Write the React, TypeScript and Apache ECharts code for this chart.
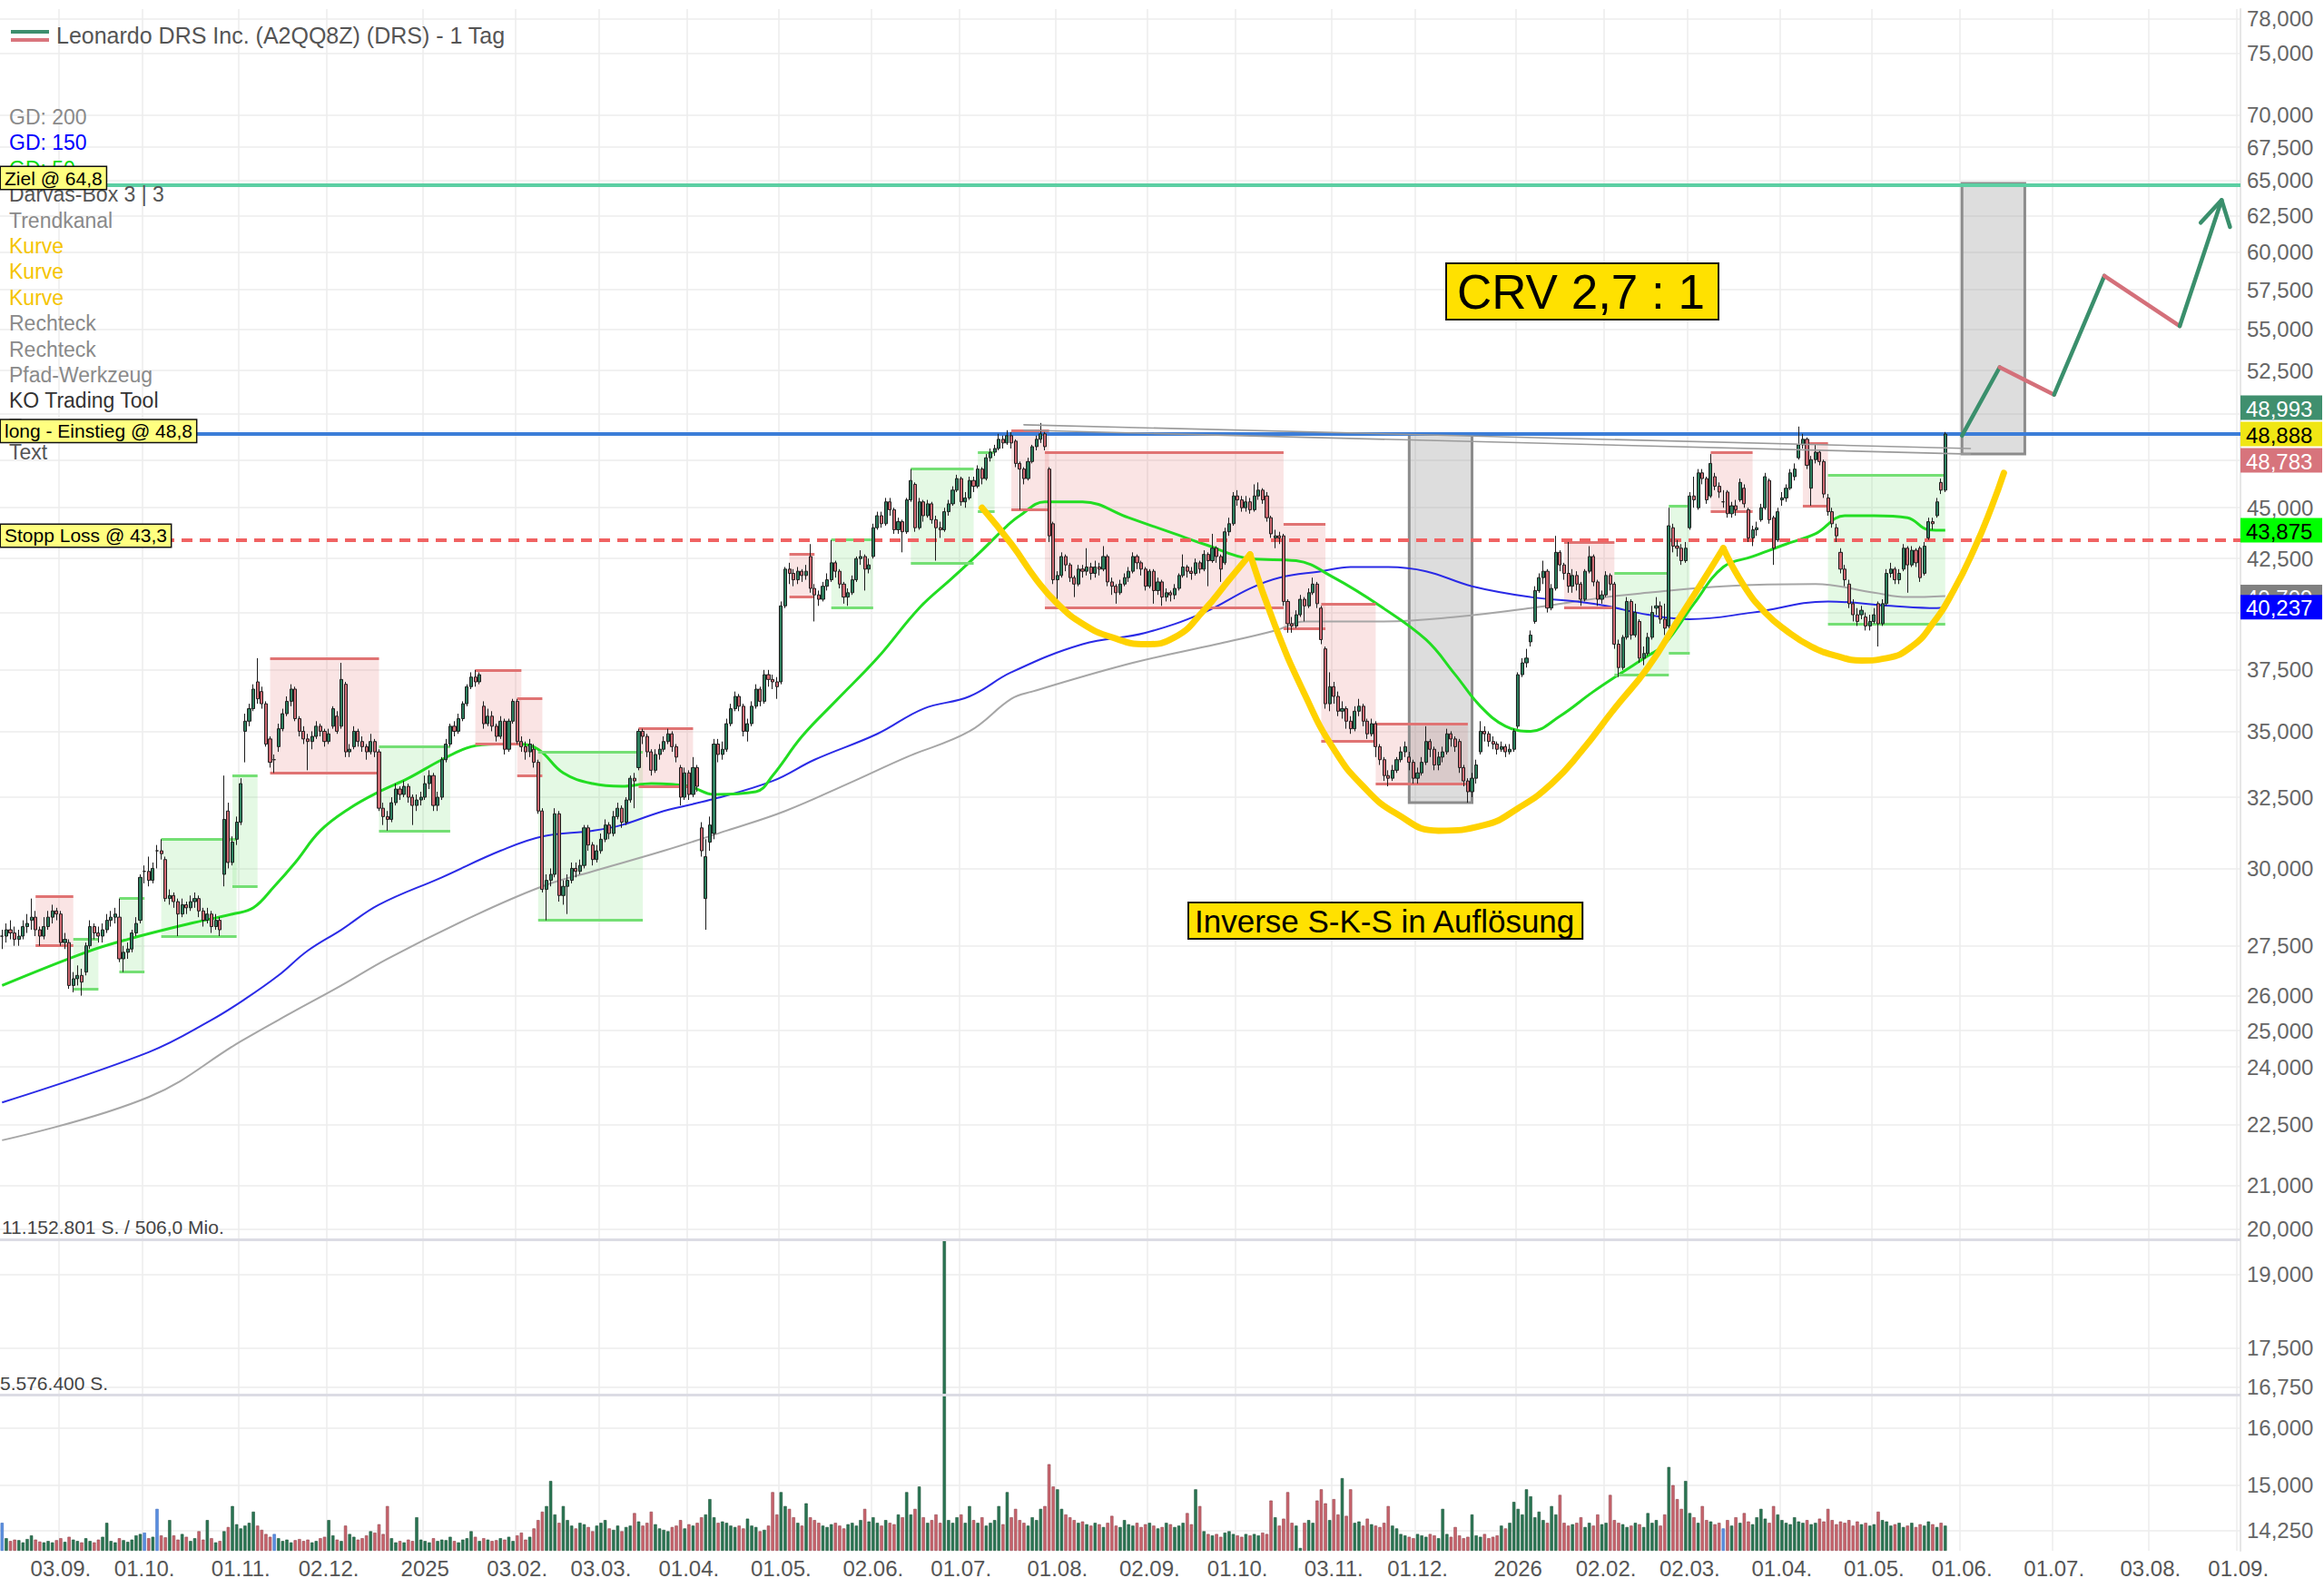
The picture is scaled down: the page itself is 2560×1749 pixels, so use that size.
import React, { useEffect, useRef } from "react";
import * as echarts from "echarts";

// ---------- categories (trading days) ----------
function tradingDays(): string[] {
  const out: string[] = [];
  const d = new Date(Date.UTC(2024, 7, 14));
  const end = Date.UTC(2026, 8, 1);
  while (d.getTime() <= end) {
    const wd = d.getUTCDay();
    if (wd !== 0 && wd !== 6) out.push(d.toISOString().slice(0, 10));
    d.setUTCDate(d.getUTCDate() + 1);
  }
  return out;
}
const dates = tradingDays();

const labelDates = [
  "2024-09-03", "2024-10-01", "2024-11-01", "2024-12-02", "2025-01-02", "2025-02-03", "2025-03-03",
  "2025-04-01", "2025-05-01", "2025-06-02", "2025-07-01", "2025-08-01", "2025-09-02", "2025-10-01",
  "2025-11-03", "2025-12-01", "2026-01-02", "2026-02-02", "2026-03-02", "2026-04-01", "2026-05-01",
  "2026-06-01", "2026-07-01", "2026-08-03", "2026-09-01",
];
const yTickLabels = [78, 75, 70, 67.5, 65, 62.5, 60, 57.5, 55, 52.5, 45, 42.5, 37.5, 35, 32.5, 30, 27.5, 26, 25, 24, 22.5, 21, 20, 19, 17.5, 16.75, 16, 15, 14.25];
const yGridOnly = [50, 47.5, 40];
const axisMinPrice = 13.93;
const axisMaxPrice = 78.83;

// ---------- daily candles [open, close, low, high] ----------
const ohlc: number[][] = [
  [27.8,27.8,27.4,28.0],[27.8,28.0,27.6,28.2],[28.0,27.9,27.7,28.3],[27.9,27.7,27.5,28.1],[27.7,27.8,27.5,28.0],
  [27.8,28.1,27.7,28.3],[28.1,28.2,27.9,28.5],[28.3,28.4,28.0,29.0],[28.4,28.0,27.8,28.6],[28.0,27.8,27.5,28.1],
  [27.8,28.1,27.7,28.4],[28.1,28.4,28.0,28.6],[28.4,28.6,28.2,28.8],[28.6,28.5,28.3,28.7],[28.5,27.6,27.5,28.6],
  [27.6,27.7,27.4,27.9],[27.6,26.3,26.2,27.7],[26.3,26.5,26.1,26.7],[26.5,26.6,26.3,26.9],[26.6,26.4,26.0,26.8],
  [26.7,27.5,26.6,27.6],[27.5,28.1,27.4,28.3],[28.1,27.9,27.7,28.2],[27.9,27.8,27.6,28.1],[27.8,28.0,27.6,28.2],
  [28.0,28.3,27.9,28.5],[28.3,28.4,28.1,28.6],[28.4,28.5,28.2,28.7],[28.4,27.1,27.0,29.0],[27.1,27.3,26.7,27.5],
  [27.3,27.4,27.1,27.6],[27.4,27.9,27.3,28.0],[27.9,28.2,27.8,28.4],[28.3,29.7,28.2,29.8],[29.9,29.9,29.5,30.1],
  [29.9,29.6,29.4,30.4],[29.6,30.0,29.5,30.2],[30.6,30.6,30.0,30.8],[30.6,30.5,30.3,31.0],[30.3,29.0,28.9,30.4],
  [29.0,29.1,28.8,29.3],[29.1,28.9,28.7,29.2],[28.9,28.5,27.8,29.0],[28.5,28.8,28.4,29.0],[28.8,28.7,28.5,28.9],
  [28.7,28.9,28.6,29.1],[28.9,29.0,28.7,29.2],[29.0,28.6,28.4,29.1],[28.6,28.3,28.1,28.7],[28.3,28.5,28.2,28.7],
  [28.5,28.1,27.9,28.6],[28.1,28.3,28.0,28.5],[28.3,28.0,27.8,28.4],[29.8,31.7,29.4,33.3],[32.0,30.2,30.0,32.3],
  [30.2,30.9,30.1,31.1],[31.0,31.6,30.8,31.8],[31.6,33.0,31.5,33.2],[35.0,35.4,33.8,35.7],[35.4,35.9,35.2,36.1],
  [35.9,36.7,35.8,36.9],[37.0,36.3,36.1,38.0],[36.6,36.1,35.9,36.8],[36.1,34.5,34.4,36.2],[34.7,33.8,33.6,34.8],
  [33.9,33.9,33.4,34.1],[34.4,35.1,34.2,35.3],[35.1,35.7,35.0,35.9],[35.7,36.2,35.6,36.4],[36.2,36.7,36.0,36.9],
  [36.7,35.5,35.4,36.8],[35.5,35.0,34.8,35.6],[35.0,34.7,34.5,35.2],[34.7,34.6,33.5,34.9],[34.6,34.8,34.3,35.0],
  [34.8,35.2,34.7,35.4],[35.2,35.0,34.8,35.3],[35.0,34.6,34.4,35.1],[34.6,34.9,34.5,35.1],[35.2,35.9,35.1,36.0],
  [35.6,35.0,34.9,35.8],[35.2,37.1,35.1,37.8],[36.9,34.2,34.0,37.0],[34.2,34.3,34.0,34.5],[34.4,35.0,34.3,35.2],
  [35.0,34.6,34.4,35.1],[34.6,34.4,34.2,34.8],[34.4,34.2,33.9,34.5],[34.2,34.6,34.1,34.9],[34.6,34.2,34.0,34.7],
  [34.2,32.1,32.0,34.3],[32.1,31.8,31.5,32.3],[31.8,31.7,31.3,32.0],[31.7,32.3,31.6,32.5],[32.3,32.8,32.2,33.0],
  [32.8,32.6,32.4,32.9],[32.6,32.9,32.5,33.1],[32.9,32.5,32.3,33.0],[32.5,32.2,31.5,32.6],[32.2,32.4,32.0,32.6],
  [32.4,32.5,32.2,32.7],[32.5,33.0,32.4,33.3],[33.0,33.3,32.8,33.5],[33.3,32.2,32.0,33.4],[32.2,32.5,32.0,32.7],
  [32.5,33.9,32.4,34.0],[33.9,34.5,33.8,34.7],[34.5,35.2,34.4,35.3],[35.2,35.0,34.8,35.4],[35.0,35.5,34.9,35.7],
  [35.5,36.1,35.4,36.2],[36.1,36.8,36.0,36.9],[36.8,37.2,36.7,37.4],[37.2,37.0,36.8,37.5],[37.0,37.3,36.9,37.4],
  [36.0,35.3,35.1,36.2],[35.3,35.6,35.2,35.9],[35.6,35.2,35.0,35.8],[35.2,34.8,34.6,35.3],[34.8,35.4,34.7,35.6],
  [35.4,34.3,34.1,35.5],[34.3,35.4,34.2,35.5],[35.4,36.2,35.3,36.3],[36.2,34.6,34.5,36.3],[34.6,34.4,34.2,34.8],
  [34.4,34.2,33.9,34.6],[34.2,34.5,34.0,34.7],[34.3,33.8,33.6,34.5],[33.8,32.0,31.9,33.9],[32.0,29.3,29.2,32.1],
  [29.3,29.6,28.3,29.8],[29.6,29.8,29.4,30.0],[29.8,31.9,29.7,32.1],[31.9,29.1,28.9,32.0],[29.1,29.4,28.8,29.6],
  [29.4,29.6,28.5,29.8],[29.6,30.0,29.5,30.2],[30.0,29.9,29.7,30.2],[29.9,30.1,29.8,30.3],[30.1,31.4,30.0,31.5],
  [31.4,30.8,30.6,31.5],[30.8,30.3,30.1,30.9],[30.3,30.6,30.2,30.8],[30.6,31.0,30.5,31.2],[31.0,31.5,30.9,31.7],
  [31.5,31.2,31.0,31.6],[31.2,31.8,31.1,32.0],[31.8,32.1,31.7,32.3],[32.1,31.6,31.4,32.2],[31.6,32.4,31.5,32.5],
  [32.4,33.2,32.3,33.3],[33.2,33.1,32.1,33.4],[33.6,35.0,33.5,35.1],[35.0,34.8,34.5,35.1],[34.8,34.2,34.0,34.9],
  [34.2,33.5,33.3,34.3],[33.5,34.1,33.4,34.3],[34.1,34.3,33.9,34.5],[34.3,34.6,34.2,34.8],[34.6,34.9,34.5,35.1],
  [34.9,34.4,34.2,35.0],[34.4,34.0,33.8,34.5],[33.6,32.5,32.2,33.7],[32.5,33.4,32.4,33.6],[33.4,32.6,32.4,33.5],
  [32.6,33.6,32.5,34.0],[33.6,32.9,32.7,33.7],[31.4,30.6,30.4,31.6],[29.0,30.4,28.0,31.0],[30.9,31.5,30.6,31.8],
  [31.2,34.5,31.0,34.7],[34.5,34.1,33.8,34.7],[34.1,34.3,33.9,34.6],[34.3,35.3,34.2,35.5],[35.3,35.9,35.2,36.1],
  [35.9,36.4,35.8,36.6],[36.4,36.0,35.8,36.5],[36.0,35.0,34.8,36.1],[35.0,35.3,34.6,35.5],[35.3,36.0,35.2,36.2],
  [36.0,36.7,35.9,36.9],[36.7,36.2,36.0,36.8],[36.2,37.3,36.1,37.5],[37.3,37.1,36.8,37.5],[37.1,37.0,36.7,37.3],
  [37.0,36.8,36.3,37.2],[37.0,40.3,36.9,40.5],[40.3,42.0,40.2,42.1],[42.0,41.8,41.3,42.3],[41.8,41.5,41.2,42.0],
  [41.5,41.9,41.3,42.1],[41.9,41.7,41.4,42.0],[41.7,41.9,41.5,42.2],[42.6,41.1,40.9,43.2],[41.1,40.8,39.6,41.3],
  [40.8,40.6,40.3,41.0],[40.6,41.2,40.5,41.4],[41.2,41.5,41.0,41.8],[41.5,42.3,41.4,43.4],[42.3,41.9,41.6,42.4],
  [41.9,41.3,41.1,42.0],[41.3,40.7,40.4,41.4],[40.7,40.9,40.3,41.1],[40.9,41.5,40.8,41.7],[41.5,42.5,41.4,42.6],
  [42.5,42.6,42.2,42.9],[42.6,42.0,41.0,42.7],[42.0,42.2,41.8,42.5],[42.6,44.0,42.5,44.2],[44.0,44.6,43.9,44.8],
  [44.6,44.2,44.0,44.8],[44.2,45.3,44.1,45.5],[45.3,44.9,44.6,45.5],[44.9,43.9,43.7,45.0],[43.9,44.3,43.7,44.5],
  [44.3,43.8,42.8,44.4],[43.8,45.4,43.7,45.5],[45.4,46.4,45.3,47.0],[46.2,44.0,43.8,46.3],[44.0,45.3,43.9,45.5],
  [45.3,44.6,44.3,45.4],[44.6,45.2,44.5,45.4],[45.2,44.4,44.2,45.3],[44.4,44.0,42.4,44.6],[44.0,43.9,43.5,44.3],
  [43.9,44.8,43.8,45.0],[44.8,45.2,44.6,45.4],[45.2,45.9,45.1,46.1],[45.9,46.5,45.8,46.7],[46.5,45.3,45.1,46.6],
  [45.3,45.5,45.0,45.8],[45.5,46.4,45.4,46.6],[46.4,46.1,45.8,46.6],[46.1,47.0,46.0,47.2],[47.0,46.5,46.2,47.1],
  [46.5,47.6,46.4,47.8],[47.6,47.9,47.4,48.1],[47.9,48.1,47.7,48.3],[48.1,48.6,48.0,48.9],[48.6,48.4,48.1,48.8],
  [48.4,48.8,48.3,49.1],[48.8,48.4,48.1,49.0],[48.5,47.3,47.1,48.6],[47.3,47.0,44.9,47.4],[47.0,46.5,46.2,47.1],
  [46.5,47.4,46.4,47.6],[47.4,48.2,47.3,48.3],[48.2,48.6,48.0,48.8],[48.6,48.9,48.4,49.5],[48.9,48.2,48.0,49.0],
  [47.0,43.6,43.3,47.1],[44.2,41.5,41.3,44.3],[41.5,41.7,40.4,41.9],[41.7,42.6,41.6,42.8],[42.6,42.2,41.9,42.7],
  [42.2,41.6,41.4,42.3],[41.6,41.3,40.7,41.7],[41.3,42.0,41.2,42.2],[42.0,41.9,41.6,42.2],[41.9,42.1,41.7,43.0],
  [42.1,41.8,41.5,42.3],[41.8,42.1,41.6,42.4],[42.1,42.0,41.7,42.3],[42.0,42.6,41.9,43.1],[42.6,41.4,41.2,42.7],
  [41.4,41.2,40.8,41.6],[41.2,40.9,40.4,41.3],[40.9,41.3,40.8,41.5],[41.3,41.6,41.2,41.8],[41.6,41.9,41.4,42.1],
  [41.9,42.6,41.8,42.8],[42.6,42.3,42.0,42.7],[42.3,42.0,41.7,42.4],[42.0,41.2,41.0,42.1],[41.2,41.9,41.1,42.0],
  [41.9,41.0,40.4,42.0],[41.0,41.4,40.8,41.6],[41.4,40.7,40.3,41.5],[40.7,40.9,40.5,41.1],[40.9,40.8,40.5,41.0],
  [40.8,41.1,40.6,41.3],[41.1,41.7,41.0,41.8],[41.7,42.1,41.6,42.7],[42.1,41.9,41.6,42.2],[41.9,41.8,41.5,42.1],
  [41.8,42.3,41.7,42.5],[42.3,42.0,41.8,42.4],[42.0,42.7,41.9,42.9],[42.7,42.4,41.2,42.8],[42.4,43.0,42.3,43.7],
  [43.0,42.6,42.3,43.1],[42.6,42.0,41.4,42.7],[42.3,43.8,42.2,44.0],[43.8,44.2,43.6,44.5],[44.2,45.6,44.1,45.8],
  [45.6,45.4,45.1,45.9],[45.4,45.0,44.8,45.6],[45.0,45.3,44.8,45.6],[45.3,44.9,44.7,45.5],[44.9,45.6,44.8,46.2],
  [45.6,45.9,45.4,46.3],[45.9,45.4,45.2,46.0],[45.6,44.5,44.3,45.8],[44.5,43.7,43.5,44.6],[43.5,43.6,43.0,43.9],
  [43.6,43.5,43.2,43.8],[43.6,40.5,40.3,43.7],[40.5,39.5,39.1,40.6],[39.5,39.4,39.1,39.8],[39.4,39.9,39.3,40.1],
  [39.9,40.6,39.8,40.8],[40.6,40.3,39.6,40.7],[40.3,40.9,40.2,41.1],[40.9,41.3,40.8,41.6],[41.3,40.4,40.2,41.4],
  [40.2,38.8,38.6,40.3],[38.4,36.1,35.9,38.5],[36.1,36.8,35.8,37.4],[36.8,36.4,36.1,37.0],[36.4,35.8,35.6,36.6],
  [35.8,35.9,35.5,36.2],[35.9,35.4,35.1,36.0],[35.4,35.1,34.9,35.6],[35.1,35.8,35.0,36.0],[35.8,36.0,35.6,36.3],
  [36.0,35.4,35.2,36.1],[35.4,34.9,34.7,35.5],[34.9,35.3,34.8,35.5],[35.3,34.4,34.0,35.4],[34.4,33.9,33.7,34.5],
  [33.9,33.3,33.1,34.0],[33.3,33.2,32.9,33.5],[33.2,33.5,33.1,33.7],[33.5,33.9,33.4,34.0],[33.9,34.2,33.8,34.4],
  [34.2,34.4,34.0,34.6],[34.0,33.8,33.5,34.2],[33.8,33.2,33.0,33.9],[33.2,33.4,33.0,33.6],[33.4,33.8,33.3,34.0],
  [33.8,34.6,33.7,35.2],[34.6,34.3,34.0,34.7],[34.3,33.7,33.5,34.4],[33.7,34.0,33.5,34.2],[34.0,34.2,33.8,34.4],
  [34.2,34.9,34.1,35.1],[34.9,34.7,34.4,35.0],[34.7,34.4,34.2,34.8],[34.6,33.6,33.4,34.7],[33.6,33.1,32.9,33.7],
  [33.1,32.7,32.3,33.2],[32.7,33.2,32.5,33.4],[33.2,33.7,33.0,33.9],[34.2,35.0,34.1,35.4],[35.0,34.9,34.6,35.2],
  [34.9,34.6,34.4,35.0],[34.6,34.5,34.3,34.8],[34.5,34.3,34.1,34.6],[34.3,34.4,34.2,34.6],[34.4,34.2,34.0,34.5],
  [34.2,34.3,34.1,34.5],[34.3,35.0,34.2,35.1],[35.2,37.3,35.1,37.4],[37.3,37.8,37.2,38.0],[37.8,38.0,37.6,38.4],
  [38.7,39.0,38.5,39.2],[39.6,41.0,39.5,41.2],[41.0,41.6,40.9,41.8],[41.6,41.9,41.3,42.4],[41.9,40.2,40.0,42.0],
  [40.2,41.1,40.1,41.3],[41.1,42.8,41.0,43.6],[42.8,42.2,41.9,42.9],[42.2,41.8,41.5,42.3],[41.8,41.2,40.9,43.3],
  [41.2,41.7,40.9,42.0],[41.7,41.3,41.0,41.9],[41.3,40.6,40.3,41.4],[40.6,41.9,40.5,42.0],[41.9,42.6,41.8,43.1],
  [42.6,41.4,41.2,42.7],[41.4,40.6,40.3,41.5],[40.6,40.8,40.4,41.0],[40.8,41.7,40.7,41.9],[41.7,41.3,41.0,41.8],
  [41.3,38.6,38.4,41.4],[38.6,37.6,37.2,38.8],[37.6,38.9,37.5,39.0],[38.9,40.5,38.8,40.7],[40.5,39.0,38.8,40.6],
  [39.0,40.0,38.9,40.4],[39.6,38.0,37.8,39.7],[38.0,38.2,37.7,38.5],[38.2,38.9,38.1,39.1],[38.9,40.0,38.8,40.3],
  [40.2,40.3,39.9,40.7],[40.3,39.7,39.5,40.5],[39.7,39.3,39.0,40.4],[39.4,44.1,39.3,45.0],[44.0,43.1,42.8,44.2],
  [43.1,43.0,42.6,43.4],[43.0,42.4,42.2,43.2],[42.4,43.0,42.3,43.3],[44.0,45.6,43.9,45.8],[45.6,45.4,45.0,46.6],
  [45.0,46.8,44.9,47.0],[46.8,46.5,46.2,47.0],[46.5,45.4,45.2,46.6],[45.6,47.3,45.5,47.8],[46.6,46.1,45.9,46.8],
  [46.1,45.8,45.5,46.3],[45.3,45.3,45.0,45.9],[45.8,44.7,44.5,45.9],[44.7,45.1,44.5,45.3],[45.1,44.9,44.6,45.4],
  [45.4,46.3,45.3,46.5],[46.0,45.2,45.0,46.2],[44.9,43.5,43.3,45.0],[43.5,43.9,43.1,44.1],[43.9,44.0,43.6,44.3],
  [44.4,45.0,44.3,45.2],[45.0,46.6,44.9,46.8],[46.4,44.4,44.2,46.5],[44.5,43.0,42.2,44.6],[43.4,44.8,43.3,45.0],
  [45.4,45.5,45.1,45.8],[45.5,46.0,45.3,46.2],[46.0,46.8,45.9,47.0],[46.6,47.0,46.4,47.3],[47.6,48.3,47.5,49.3],
  [48.3,48.6,48.1,48.9],[48.6,47.2,47.0,48.7],[46.0,47.5,45.1,47.7],[47.5,47.9,47.3,48.3],[47.9,47.4,47.2,48.0],
  [47.4,45.7,45.5,47.5],[45.5,44.8,44.6,45.7],[44.8,44.2,44.0,45.0],[44.0,43.6,43.3,44.2],[42.8,42.0,41.8,43.0],
  [42.0,41.5,41.2,42.2],[41.3,40.4,40.2,41.5],[40.4,39.9,39.6,40.6],[39.9,39.6,39.4,40.2],[39.9,40.1,39.7,40.3],
  [39.8,39.4,39.2,40.0],[39.4,39.6,39.2,39.9],[39.6,39.9,39.5,40.2],[40.4,39.5,38.5,40.5],[39.5,40.4,39.4,40.6],
  [40.4,41.8,40.3,42.0],[41.8,42.0,41.6,42.3],[42.0,41.5,41.3,42.1],[41.5,41.8,41.3,42.0],[42.0,43.0,41.9,43.2],
  [43.0,42.2,40.9,43.1],[42.2,42.9,42.1,43.1],[42.9,42.3,42.1,43.0],[43.0,41.6,41.4,43.1],[41.8,43.1,41.7,43.3],
  [43.5,44.3,43.4,44.5],[44.3,44.2,43.9,44.5],[44.6,45.3,44.5,45.5],[46.3,45.9,45.7,46.5],[45.9,48.888,45.8,49.0],
];

// ---------- daily volume (million shares) ----------
const volume: number[] = [
  1.0,0.45,0.35,0.4,0.38,0.3,0.42,0.55,0.4,0.33,0.3,0.35,0.3,0.38,0.45,0.32,0.5,0.4,0.35,0.3,
  0.45,0.35,0.3,0.4,0.5,1.0,0.35,0.3,0.45,0.38,0.32,0.4,0.55,0.6,0.65,0.45,0.5,1.5,0.55,0.48,
  1.1,0.55,0.4,0.6,0.5,0.35,0.45,0.7,0.4,1.1,0.45,0.3,0.35,0.7,0.85,1.6,0.95,0.8,0.9,1.0,
  1.4,0.9,0.75,0.6,0.5,0.6,0.45,0.35,0.4,0.3,0.38,0.42,0.35,0.4,0.3,0.35,0.45,0.5,1.1,0.55,
  0.4,0.35,0.9,0.6,0.5,0.4,0.45,0.55,0.7,0.65,0.95,0.6,1.6,0.45,0.3,0.35,0.3,0.4,0.35,1.2,
  0.4,0.35,0.3,0.45,0.35,0.4,0.38,0.5,0.35,0.3,0.4,0.45,0.7,0.5,0.35,0.45,0.4,0.35,0.38,0.45,
  0.4,0.5,0.35,0.55,0.65,0.4,0.5,0.8,1.1,1.4,1.6,2.5,1.3,1.0,1.6,1.1,0.9,0.8,1.0,0.95,
  0.85,0.7,0.9,1.0,1.1,0.8,0.75,0.9,0.7,0.85,0.9,1.35,1.05,0.9,1.0,1.4,0.95,0.8,0.75,0.7,
  0.85,0.9,1.1,0.8,0.95,0.9,1.0,1.2,1.3,1.85,1.2,1.0,1.05,1.0,0.9,0.85,0.9,0.8,1.15,0.9,
  0.85,0.7,0.75,0.9,2.1,1.3,2.1,1.6,1.5,1.2,1.0,0.9,1.7,1.2,1.1,1.0,0.9,0.85,0.95,1.0,
  0.9,0.8,0.95,1.0,0.9,1.1,1.5,1.05,1.2,1.0,0.9,1.1,1.0,0.95,1.3,1.2,2.1,1.3,1.5,2.3,
  1.2,1.0,1.1,1.3,1.0,11.152801,1.1,1.0,1.2,1.3,1.0,1.6,1.1,1.0,1.2,0.9,1.0,1.1,1.6,0.95,
  2.1,1.2,1.5,1.1,1.0,0.9,1.2,1.1,1.5,1.6,3.1,2.3,2.2,1.5,1.3,1.2,1.1,1.0,1.05,0.95,
  0.9,1.0,0.95,0.85,1.0,1.25,0.9,0.85,1.1,0.95,0.9,1.0,0.85,0.95,1.0,0.9,0.8,0.85,1.0,0.95,
  0.85,0.9,1.0,1.35,0.95,2.2,1.6,0.7,0.6,0.55,0.6,0.5,0.65,0.7,0.6,0.55,0.5,0.6,0.55,0.6,
  0.55,0.65,0.6,1.8,1.2,0.9,1.15,2.1,1.0,0.9,0.1,1.0,1.1,1.0,1.8,2.2,1.7,1.1,1.85,1.3,
  2.6,1.25,2.2,1.0,1.05,0.9,1.15,0.95,0.9,0.85,1.0,1.6,0.9,0.8,0.6,0.55,0.5,0.45,0.6,0.55,
  0.5,0.6,0.55,0.45,1.5,0.6,0.5,0.85,0.55,0.45,0.5,1.3,0.55,0.5,0.6,0.45,0.5,0.55,0.9,0.8,
  1.0,1.75,1.5,1.3,2.2,1.95,1.2,1.4,1.1,1.0,1.6,1.3,2.0,1.0,0.9,0.95,1.0,1.2,0.85,1.0,
  0.9,1.3,0.95,1.0,2.0,1.1,1.0,0.95,0.85,0.9,1.0,0.95,0.85,1.35,1.0,1.1,0.9,1.3,3.0,2.35,
  1.85,1.5,2.5,1.35,1.2,1.0,1.6,1.1,1.05,0.95,1.0,0.8,1.1,0.9,1.2,1.0,1.35,1.05,0.95,1.2,
  1.5,1.15,1.0,1.6,1.3,1.1,1.0,0.95,1.2,1.05,1.0,1.1,0.95,1.0,1.15,1.05,1.5,1.1,0.95,1.05,
  1.0,1.1,0.9,1.05,0.95,1.0,0.9,0.95,1.4,1.1,1.05,0.9,0.95,1.0,0.85,0.9,1.0,0.85,0.95,0.9,
  1.05,0.95,0.85,1.0,0.9,
];
const volumeMax = 11.152801;
const volumeHalf = 5.5764;

// ---------- moving averages [candle index, price] ----------
const gd50: number[][] = [
  [0,26.3],[20,27.3],[30,27.7],[45,28.2],[55,28.5],[60,28.7],[65,29.4],[70,30.2],[76,31.3],[83,32.1],[90,32.7],
  [97,33.2],[105,33.9],[112,34.4],[118,34.5],[123,34.5],[128,34.3],[134,33.4],[141,33.0],[148,32.9],[155,33.0],
  [164,32.9],[170,32.6],[180,32.7],[184,33.3],[191,34.8],[199,36.2],[209,38.0],[219,40.2],[227,41.6],[234,42.9],
  [240,44.1],[243,44.6],[249,45.3],[258,45.3],[269,44.5],[280,43.7],[287,43.2],[298,42.5],[309,42.4],[318,41.6],
  [329,40.3],[340,38.8],[347,37.3],[353,36.0],[359,35.2],[365,35.0],[372,35.6],[380,36.6],[386,37.3],[393,38.1],
  [397,38.6],[404,40.4],[411,42.1],[418,42.6],[426,43.2],[433,43.7],[440,44.6],[447,44.6],[455,44.5],[460,43.9],[464,43.875],
];
const gd150: number[][] = [
  [0,23.06],[35,24.4],[50,25.3],[58,25.9],[66,26.6],[73,27.35],[81,28.0],[90,28.8],[105,29.7],[119,30.6],[129,31.1],
  [141,31.3],[148,31.5],[158,32.0],[169,32.4],[184,33.1],[194,33.9],[209,34.9],[220,35.9],[231,36.4],[241,37.4],
  [258,38.6],[273,39.1],[287,40.0],[298,41.1],[305,41.6],[315,41.9],[322,42.1],[331,42.1],[340,41.9],[351,41.2],
  [365,40.7],[376,40.5],[383,40.3],[393,39.9],[403,39.7],[418,40.0],[436,40.5],[451,40.3],[462,40.2],[464,40.237],
];
const gd200: number[][] = [
  [0,22.1],[35,23.2],[57,24.7],[69,25.5],[81,26.3],[92,27.1],[112,28.4],[129,29.4],[141,29.9],[158,30.6],[173,31.3],
  [187,32.0],[202,33.0],[216,34.0],[231,35.0],[241,36.3],[246,36.6],[270,37.8],[290,38.6],[304,39.2],[311,39.6],
  [329,39.6],[347,39.8],[365,40.2],[383,40.7],[393,40.9],[411,41.2],[433,41.3],[447,40.9],[455,40.7],[464,40.75],
];

// ---------- drawings ----------
const curveLeft: number[][] = [[234,45.0],[241,43.2],[247,41.5],[252,40.4],[258,39.5],[265,38.9],[273,38.6],[280,38.9],[287,40.1],[293,41.5],[298,42.7]];
const curveHead: number[][] = [[298,42.7],[304,39.4],[311,36.5],[318,34.3],[325,32.9],[333,31.9],[343,31.3],[354,31.5],[362,32.1],[370,33.0],[377,34.2],[385,35.9],[393,37.6],[400,39.6],[406,41.4],[411,43.0]];
const curveRight: number[][] = [[411,43.0],[416,41.2],[421,40.0],[426,39.2],[432,38.5],[438,38.1],[444,37.9],[450,38.0],[456,38.5],[461,39.5],[466,41.0],[471,43.0],[475,45.0],[478,46.8]];
const trendUpper: number[][] = [[244,49.4],[470,48.1]];
const trendLower: number[][] = [[244,49.1],[470,47.8]];
// [startIdx, endIdx, low, high, kind]
const darvas: [number, number, number, number, string][] = [
  [8,17,27.5,29.06,"r"],[17,23,26.2,27.7,"g"],[28,34,26.7,29.0,"g"],[38,56,27.8,31.0,"g"],[55,61,29.4,33.3,"g"],
  [64,90,33.4,38.0,"r"],[90,107,31.3,34.4,"g"],[113,124,34.5,37.5,"r"],[123,129,33.3,36.3,"r"],[128,153,28.3,34.2,"g"],
  [152,165,32.9,35.1,"r"],[188,194,40.7,42.7,"r"],[198,208,40.2,43.4,"g"],[217,232,42.3,47.0,"g"],[233,237,44.8,47.9,"g"],
  [241,250,44.9,49.1,"r"],[249,306,40.2,47.9,"r"],[306,316,39.3,44.2,"r"],[315,328,34.6,40.4,"r"],[328,350,33.0,35.3,"r"],
  [373,385,40.2,43.3,"r"],[385,398,37.3,41.8,"g"],[398,403,38.2,45.1,"g"],[408,418,44.8,47.9,"r"],[430,436,45.1,48.4,"r"],
  [436,464,39.5,46.7,"g"],
];
const grayRects: number[][] = [[336,351,32.3,48.9],[468,483,47.8,64.8]];
const pathPoints: number[][] = [[468,48.8],[477,52.7],[490,51.1],[502,58.4],[520,55.2],[530,63.6]];
const arrowHead: number[][] = [[525,62.0],[530,63.6],[532,61.7]];
const zielLevel = 64.8;
const entryLevel = 48.8;
const stopLevel = 43.3;
const priceTags = [
  { text: "48,993", price: 48.888, shift: -29, bg: "#3f8f6e", fg: "#ffffff" },
  { text: "48,783", price: 48.888, shift: 29, bg: "#d7747c", fg: "#ffffff" },
  { text: "48,888", price: 48.888, shift: 0, bg: "#f0e614", fg: "#000000" },
  { text: "43,875", price: 43.875, shift: 0, bg: "#00ff00", fg: "#000000" },
  { text: "40,709", price: 40.709, shift: 0, bg: "#808080", fg: "#ffffff" },
  { text: "40,237", price: 40.237, shift: 0, bg: "#0000ff", fg: "#ffffff" },
];
const legendItems = [
  { text: "GD: 200", color: "#8a8a8a" },
  { text: "GD: 150", color: "#0000ff" },
  { text: "GD: 50", color: "#00dd00" },
  { text: "Darvas-Box 3 | 3", color: "#555555" },
  { text: "Trendkanal", color: "#8a8a8a" },
  { text: "Kurve", color: "#f5c400" },
  { text: "Kurve", color: "#f5c400" },
  { text: "Kurve", color: "#f5c400" },
  { text: "Rechteck", color: "#8a8a8a" },
  { text: "Rechteck", color: "#8a8a8a" },
  { text: "Pfad-Werkzeug", color: "#8a8a8a" },
  { text: "KO Trading Tool", color: "#333333" },
  { text: "Text", color: "#8a8a8a" },
  { text: "Text", color: "#555555" },
];

const FONT = '"Liberation Sans", Arial, sans-serif';
const L = (p: number) => Math.log(p);
const labelSet = new Set(labelDates);
const labelInterval = (_i: number, v: string) => labelSet.has(v);
const fmtDate = (v: string) => (v.endsWith("-01-02") ? v.slice(0, 4) : `${v.slice(8, 10)}.${v.slice(5, 7)}.`);
const pts = (arr: number[][]) => arr.map(([i, p]) => [dates[i], L(p)]);

function buildOption(): any {
  const RED_LINE = "#e07373";
  const GREEN_LINE = "#74df74";
  const darvasAreas = darvas.map(([s, e, lo, hi, k]) => [
    { xAxis: dates[s], yAxis: L(lo), itemStyle: { color: k === "r" ? "rgba(232,120,120,0.2)" : "rgba(120,225,120,0.2)" } },
    { xAxis: dates[e], yAxis: L(hi) },
  ]);
  const darvasLines: any[] = [];
  darvas.forEach(([s, e, lo, hi, k]) => {
    const c = k === "r" ? RED_LINE : GREEN_LINE;
    darvasLines.push([{ coord: [dates[s], L(hi)], lineStyle: { color: c, width: 3, type: "solid" } }, { coord: [dates[e], L(hi)] }]);
    darvasLines.push([{ coord: [dates[s], L(lo)], lineStyle: { color: c, width: 3, type: "solid" } }, { coord: [dates[e], L(lo)] }]);
  });
  const rectAreas = grayRects.map(([s, e, lo, hi]) => [
    { xAxis: dates[s], yAxis: L(lo) },
    { xAxis: dates[e], yAxis: L(hi) },
  ]);

  const maLine = (name: string, data: number[][], color: string, width: number) => ({
    type: "line", name, data: pts(data), smooth: 0.4, symbol: "none", z: 3, silent: true,
    lineStyle: { color, width },
  });
  const drawLine = (name: string, data: number[][], color: string, width: number, z: number, smooth: number) => ({
    type: "line", name, data: pts(data), smooth, symbol: "none", z, silent: true,
    lineStyle: { color, width, cap: "round", join: "round" },
  });

  const pathSeries: any[] = [];
  for (let k = 0; k < pathPoints.length - 1; k++) {
    const up = pathPoints[k + 1][1] > pathPoints[k][1];
    pathSeries.push(drawLine(`path${k}`, [pathPoints[k], pathPoints[k + 1]], up ? "#3a8f6c" : "#d4707a", 4.5, 8, 0));
  }
  pathSeries.push(drawLine("arrow", arrowHead, "#3a8f6c", 4.5, 8, 0));

  return {
    animation: false,
    backgroundColor: "#ffffff",
    textStyle: { fontFamily: FONT },
    grid: [
      { left: 0, right: 92, top: 10, bottom: 41, containLabel: false, outerBoundsMode: "none" },
      { left: 0, right: 92, top: 1365, bottom: 41, containLabel: false, outerBoundsMode: "none" },
    ],
    xAxis: [
      {
        type: "category", gridIndex: 0, data: dates, boundaryGap: true,
        axisLine: { show: false },
        axisTick: { show: false, interval: labelInterval },
        axisLabel: { interval: labelInterval, formatter: fmtDate, color: "#555", fontSize: 24, margin: 7, hideOverlap: false, fontFamily: FONT },
        splitLine: { show: true, interval: labelInterval, lineStyle: { color: "#ececec", width: 1.5 } },
      },
      { type: "category", gridIndex: 1, data: dates, boundaryGap: true, show: false },
    ],
    yAxis: [
      {
        type: "value", gridIndex: 0, position: "right", min: L(axisMinPrice), max: L(axisMaxPrice),
        axisLine: { show: true, lineStyle: { color: "#e6e6e6", width: 2 } },
        axisTick: { show: false, customValues: [...yTickLabels, ...yGridOnly].map(L) },
        axisLabel: {
          customValues: yTickLabels.map(L),
          formatter: (v: number) => Math.exp(v).toFixed(3).replace(".", ","),
          color: "#666", fontSize: 24, margin: 7, fontFamily: FONT,
        },
        splitLine: { show: true, lineStyle: { color: "#ececec", width: 1.5 } },
      },
      { type: "value", gridIndex: 1, min: 0, max: volumeMax, show: false, splitLine: { show: false } },
    ],
    series: [
      {
        type: "line", name: "darvas", data: [], z: 1, silent: true,
        markArea: { silent: true, data: darvasAreas },
        markLine: { silent: true, symbol: ["none", "none"], label: { show: false }, data: darvasLines },
      },
      {
        type: "line", name: "rechteck", data: [], z: 2, silent: true,
        markArea: {
          silent: true,
          itemStyle: { color: "rgba(150,150,150,0.32)", borderColor: "#8c8c8c", borderWidth: 3 },
          data: rectAreas,
        },
      },
      maLine("GD 200", gd200, "#a6a6a6", 2),
      maLine("GD 150", gd150, "#2a2ae6", 2),
      maLine("GD 50", gd50, "#22dd22", 3),
      {
        type: "candlestick", name: "DRS", data: ohlc.map((r) => r.map(L)), z: 5, barWidth: 3.6, silent: true,
        itemStyle: { color: "#2d7f5e", color0: "#cf6a73", borderColor: "#1d1d1d", borderColor0: "#1d1d1d", borderWidth: 1 },
      },
      drawLine("trend1", trendUpper, "#9a9a9a", 1.6, 6, 0),
      drawLine("trend2", trendLower, "#9a9a9a", 1.6, 6, 0),
      drawLine("kurve1", curveLeft, "#ffd200", 7, 7, 0.5),
      drawLine("kurve2", curveHead, "#ffd200", 7, 7, 0.5),
      drawLine("kurve3", curveRight, "#ffd200", 7, 7, 0.5),
      {
        type: "line", name: "ko", data: [], z: 7, silent: true,
        markLine: {
          silent: true, symbol: ["none", "none"], label: { show: false },
          data: [
            { yAxis: L(zielLevel), lineStyle: { color: "#5ccfa3", width: 4, type: "solid" } },
            { yAxis: L(entryLevel), lineStyle: { color: "#3b7dd8", width: 4, type: "solid" } },
            { yAxis: L(stopLevel), lineStyle: { color: "#f06262", width: 4, type: [12, 8] } },
          ],
        },
      },
      ...pathSeries,
      {
        type: "bar", name: "Volumen", xAxisIndex: 1, yAxisIndex: 1, barWidth: "74%", z: 4, silent: true,
        data: volume.map((v, i) => {
          const [o, c] = ohlc[i];
          const col = c > o ? "#2a7654" : c < o ? "#c9646d" : "#5b8fe0";
          const bor = c > o ? "#1c5238" : c < o ? "#8f434b" : "#3d6cc0";
          return { value: v, itemStyle: { color: col, borderColor: bor, borderWidth: 0.6 } };
        }),
        markLine: {
          silent: true, symbol: ["none", "none"], label: { show: false },
          lineStyle: { color: "#dcdce4", width: 3, type: "solid" },
          data: [{ yAxis: volumeMax }, { yAxis: volumeHalf }],
        },
      },
    ],
  };
}

function buildGraphics(chart: any): any[] {
  const py = (p: number) => chart.convertToPixel({ yAxisIndex: 0 }, L(p)) as number;
  const vy = (v: number) => chart.convertToPixel({ yAxisIndex: 1 }, v) as number;
  const els: any[] = [];
  // title
  els.push({ type: "line", id: "ic1", z: 100, shape: { x1: 12, y1: 35, x2: 54, y2: 35 }, style: { stroke: "#3d8f6e", lineWidth: 4 } });
  els.push({ type: "line", id: "ic2", z: 100, shape: { x1: 12, y1: 44, x2: 54, y2: 44 }, style: { stroke: "#d9757d", lineWidth: 4 } });
  els.push({ type: "text", id: "title", z: 100, x: 62, y: 39, style: { text: "Leonardo DRS Inc. (A2QQ8Z) (DRS) - 1 Tag", fill: "#555", font: `25px ${FONT}`, verticalAlign: "middle" } });
  // legend list
  legendItems.forEach((it, k) => {
    els.push({ type: "text", id: `lg${k}`, z: 100, x: 10, y: 129 + k * 28.4, style: { text: it.text, fill: it.color, font: `23px ${FONT}`, verticalAlign: "middle" } });
  });
  // KO boxes
  const koBox = (id: string, text: string, level: number, dy: number) => ({
    type: "text", id, z: 120, x: 1, y: py(level) + dy,
    style: { text, fill: "#000", font: `21px ${FONT}`, verticalAlign: "middle", backgroundColor: "#ffff80", borderColor: "#111", borderWidth: 1.5, padding: [2, 4, 1, 4] },
  });
  els.push(koBox("ko1", "Ziel @ 64,8", zielLevel, -6));
  els.push(koBox("ko2", "long - Einstieg @ 48,8", entryLevel, -5));
  els.push(koBox("ko3", "Stopp Loss @ 43,3", stopLevel, -7));
  // text annotations
  els.push({ type: "text", id: "crv", z: 120, x: 1594, y: 291, style: { text: "CRV 2,7 : 1", fill: "#000", font: `53px ${FONT}`, backgroundColor: "#ffe100", borderColor: "#111", borderWidth: 2, padding: [4, 14, 3, 11] } });
  els.push({ type: "text", id: "sks", z: 120, x: 1310, y: 995, style: { text: "Inverse S-K-S in Auflösung", fill: "#000", font: `35px ${FONT}`, backgroundColor: "#ffe100", borderColor: "#111", borderWidth: 2, padding: [2, 6, 1, 6] } });
  // volume labels
  els.push({ type: "text", id: "v1", z: 100, x: 2, y: vy(volumeMax) - 3, style: { text: "11.152.801 S. / 506,0 Mio.", fill: "#444", font: `21px ${FONT}`, verticalAlign: "bottom" } });
  els.push({ type: "text", id: "v2", z: 100, x: 0, y: vy(volumeHalf) - 3, style: { text: "5.576.400 S.", fill: "#444", font: `21px ${FONT}`, verticalAlign: "bottom" } });
  // right price tags
  priceTags.forEach((t, k) => {
    const cy = py(t.price) + t.shift;
    els.push({ type: "rect", id: `tr${k}`, z: 130 + k, shape: { x: 2468, y: cy - 13.5, width: 90, height: 27 }, style: { fill: t.bg } });
    els.push({ type: "text", id: `tt${k}`, z: 130 + k, x: 2474, y: cy + 1, style: { text: t.text, fill: t.fg, font: `24px ${FONT}`, verticalAlign: "middle" } });
  });
  return els;
}

export default function App() {
  const ref = useRef<HTMLDivElement>(null);
  useEffect(() => {
    document.body.style.margin = "0";
    document.body.style.overflow = "hidden";
    const chart = echarts.init(ref.current as HTMLDivElement, null, { renderer: "svg" });
    chart.setOption(buildOption());
    chart.setOption({ graphic: { elements: buildGraphics(chart) } });
    return () => chart.dispose();
  }, []);
  return <div ref={ref} style={{ position: "fixed", left: 0, top: 0, width: 2560, height: 1749, background: "#fff" }} />;
}
